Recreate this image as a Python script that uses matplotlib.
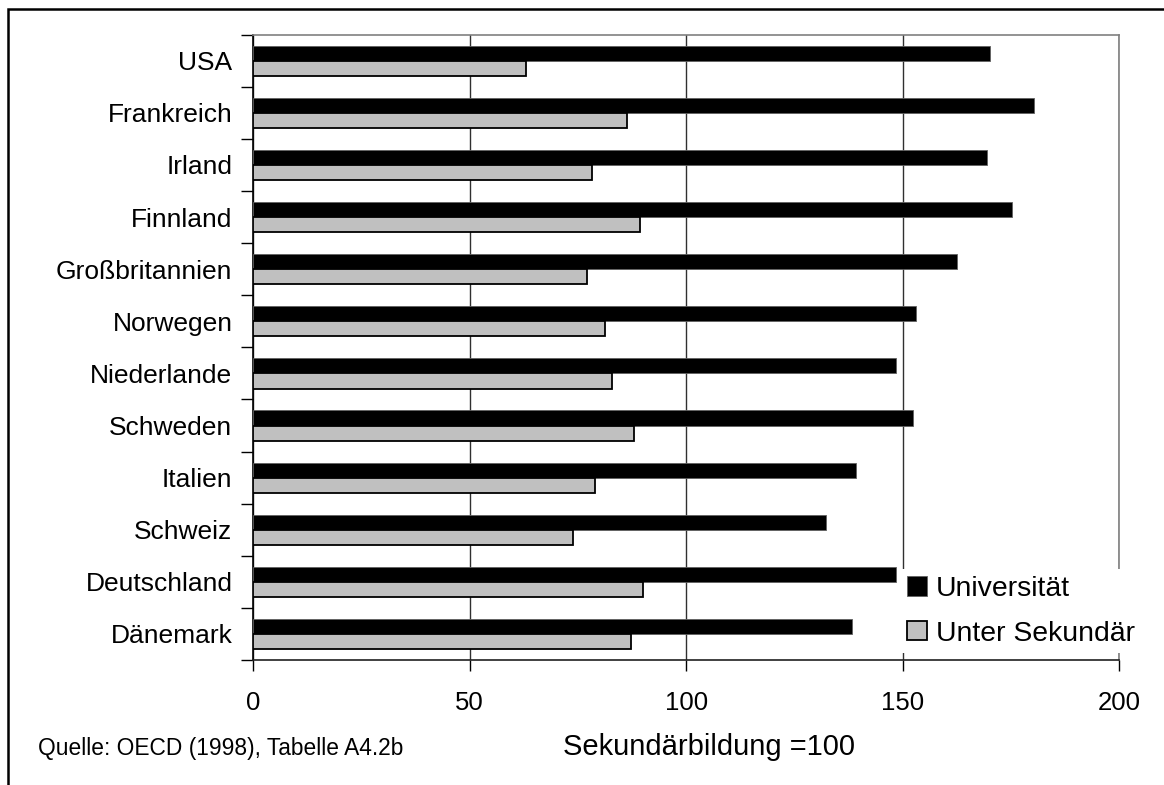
import matplotlib
matplotlib.use("Agg")
import matplotlib.pyplot as plt
from matplotlib.patches import Rectangle
import numpy as np

plt.rcParams['font.family'] = ['Liberation Sans', 'DejaVu Sans']

countries = ['USA', 'Frankreich', 'Irland', 'Finnland', 'Großbritannien', 'Norwegen',
             'Niederlande', 'Schweden', 'Italien', 'Schweiz', 'Deutschland', 'Dänemark']
universitaet = [170.3, 180.4, 169.4, 175.4, 162.6, 153.2, 148.6, 152.4, 139.2, 132.3, 148.6, 138.4]
unter_sek = [62.9, 86.3, 78.2, 89.3, 77.0, 81.2, 82.9, 88.0, 79.0, 73.9, 90.1, 87.2]
x_ticks = [0, 50, 100, 150, 200]

fig = plt.figure(figsize=(11.64, 7.85), dpi=100)
ax = fig.add_axes([0.2176, 0.1592, 0.7437, 0.7966])

y = np.arange(len(countries))
h = 0.29
ax.barh(y - h / 2, universitaet, height=h, color='black', edgecolor='#606060',
        linewidth=0.6, label='Universität', zorder=3)
ax.barh(y + h / 2, unter_sek, height=h, color='#c0c0c0', edgecolor='black',
        linewidth=1.3, label='Unter Sekundär', zorder=3)

ax.set_xlim(0, 200)
ax.set_ylim(len(countries) - 0.5, -0.5)
ax.set_xticks(x_ticks)
ax.set_xticklabels([str(t) for t in x_ticks], fontsize=18.5)
ax.xaxis.grid(True, color='#303030', linewidth=1.0, zorder=1)
ax.tick_params(axis='x', direction='out', length=8, width=1, pad=14)

# category separators as major ticks, labels on minor ticks
ax.set_yticks(np.arange(-0.5, len(countries), 1.0))
ax.set_yticklabels([])
ax.set_yticks(y, minor=True)
ax.set_yticklabels(countries, minor=True, fontsize=19)
ax.tick_params(axis='y', which='major', direction='out', length=9, width=1)
ax.tick_params(axis='y', which='minor', length=0, pad=15)

ax.spines['left'].set_color('black')
ax.spines['bottom'].set_color('#202020')
ax.spines['top'].set_color('#808080')
ax.spines['right'].set_color('#808080')
for s in ax.spines.values():
    s.set_linewidth(1.2)

leg = ax.legend(loc='lower left', bbox_to_anchor=(0.748, 0.011), fontsize=20.4,
                frameon=True, fancybox=False, framealpha=1, facecolor='white',
                edgecolor='none', borderpad=0.23, borderaxespad=0,
                labelspacing=0.66, handlelength=0.7, handleheight=0.67,
                handletextpad=0.3)
leg.set_zorder(5)

fig.text(0.609, 0.049, 'Sekundärbildung =100', ha='center', va='center', fontsize=21)
fig.text(0.033, 0.047, 'Quelle: OECD (1998), Tabelle A4.2b', ha='left', va='center',
         fontsize=16.4)

# outer frame (clipped by the image edge on right and bottom)
fig.patches.append(Rectangle((8 / 1164, -0.1), 1.2, 1 - 9 / 785 + 0.1,
                             transform=fig.transFigure, fill=False,
                             edgecolor='black', linewidth=1.8))

fig.savefig('out.png', dpi=100)
